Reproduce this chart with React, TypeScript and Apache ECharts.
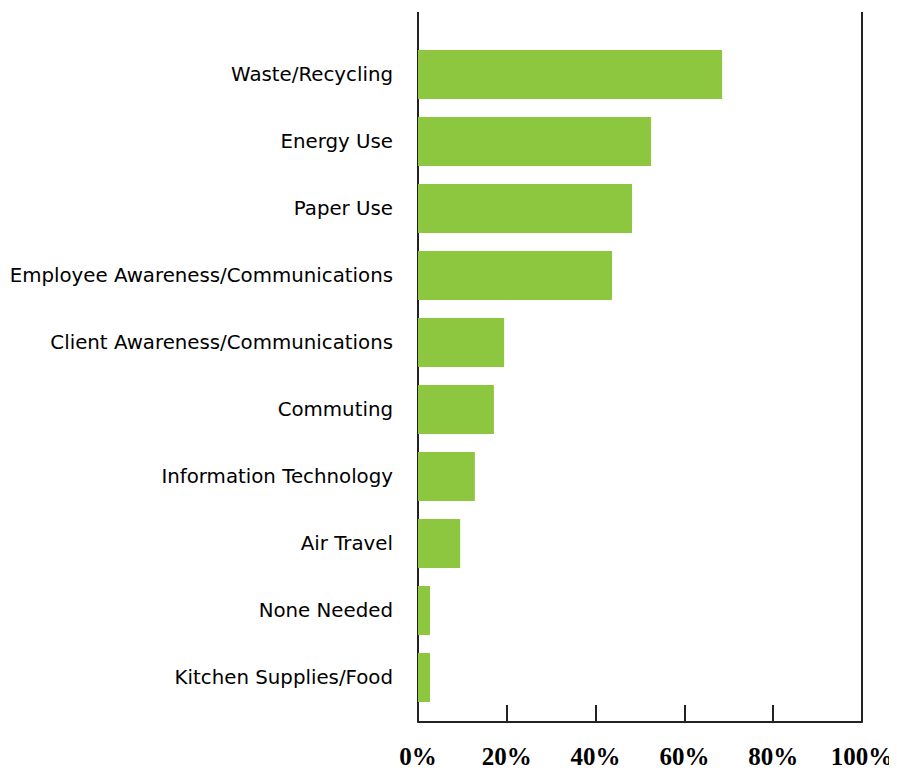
import React, { useEffect, useRef } from "react";
import * as echarts from "echarts";

const categories = [
  "Waste/Recycling",
  "Energy Use",
  "Paper Use",
  "Employee Awareness/Communications",
  "Client Awareness/Communications",
  "Commuting",
  "Information Technology",
  "Air Travel",
  "None Needed",
  "Kitchen Supplies/Food",
];
const values = [68.5, 52.5, 48.2, 43.7, 19.4, 17.1, 12.8, 9.5, 2.7, 2.7];
const xTicks = [0, 20, 40, 60, 80, 100];

export default function App() {
  const ref = useRef<HTMLDivElement>(null);
  useEffect(() => {
    if (!ref.current) return;
    const chart = echarts.init(ref.current, undefined, { renderer: "svg" });
    const lineStyle = { stroke: "#222", lineWidth: 2 };
    chart.setOption({
      animation: false,
      backgroundColor: "#fff",
      grid: { left: 418, right: 35, top: 41, bottom: 63, containLabel: false },
      xAxis: {
        type: "value",
        min: 0,
        max: 100,
        interval: 20,
        offset: 11,
        axisLine: { show: true, lineStyle: { color: "#222", width: 2 } },
        axisTick: { show: true, inside: true, length: 17, lineStyle: { color: "#222", width: 2 } },
        splitLine: { show: false },
        axisLabel: {
          formatter: (v: number) => (xTicks.includes(v) ? v + "%" : ""),
          fontFamily: "Liberation Serif",
          fontWeight: "bold",
          fontSize: 25,
          color: "#000",
          margin: 22,
        },
      },
      yAxis: {
        type: "category",
        data: categories,
        inverse: true,
        axisLine: { show: false },
        axisTick: { show: false },
        axisLabel: {
          fontFamily: "DejaVu Sans",
          fontSize: 19.8,
          color: "#000",
          margin: 25,
        },
      },
      graphic: [
        { type: "line", shape: { x1: 418, y1: 12, x2: 418, y2: 722 }, style: lineStyle, silent: true },
        { type: "line", shape: { x1: 862, y1: 12, x2: 862, y2: 722 }, style: lineStyle, silent: true },
      ],
      series: [
        {
          type: "bar",
          data: values,
          barWidth: 49,
          itemStyle: { color: "#8dc63f" },
        },
      ],
    });
    return () => chart.dispose();
  }, []);
  return <div ref={ref} style={{ width: 897, height: 774, margin: -8 }} />;
}
